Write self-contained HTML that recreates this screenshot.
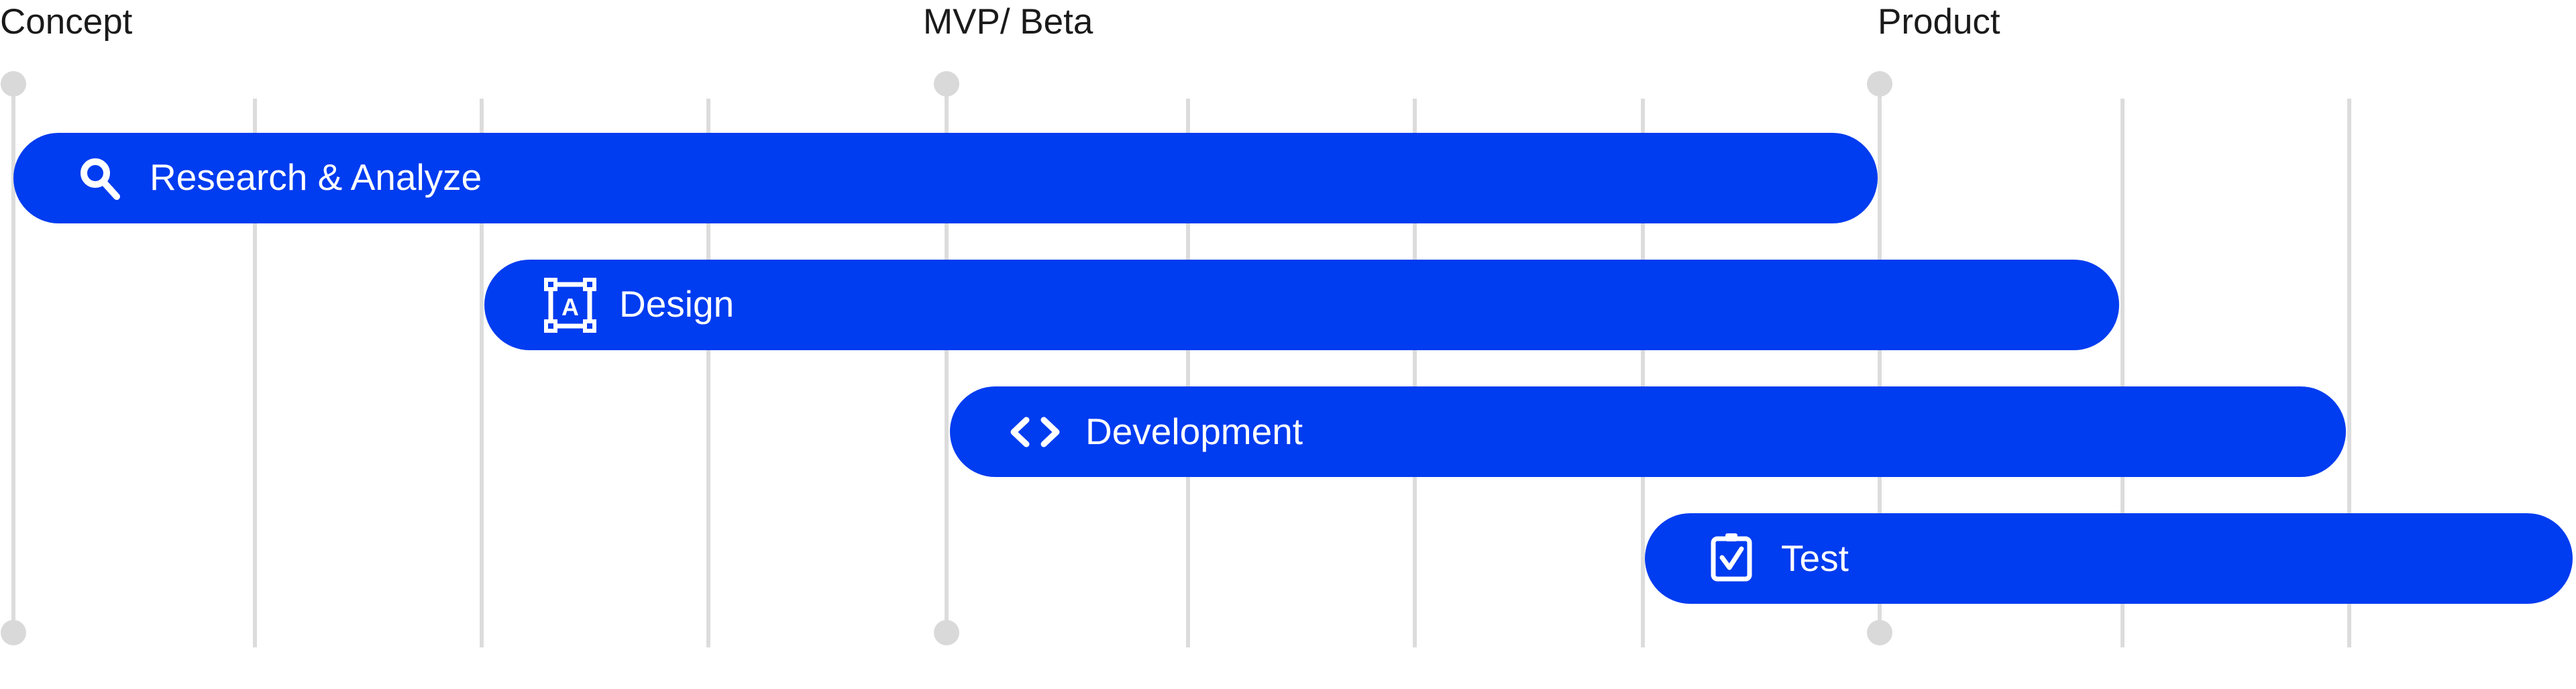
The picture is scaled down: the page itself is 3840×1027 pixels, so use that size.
<!DOCTYPE html>
<html><head><meta charset="utf-8"><style>
html,body{margin:0;padding:0;background:#fff;}
svg{display:block;}
text{font-family:"Liberation Sans",sans-serif;}
</style></head><body>
<svg width="3840" height="1027" viewBox="0 0 3840 1027" xmlns="http://www.w3.org/2000/svg">
<g fill="#1a1a1a" font-size="53">
<text x="0" y="50">Concept</text>
<text x="1376" y="50">MVP/ Beta</text>
<text x="2799" y="50">Product</text>
</g>
<g stroke="#dcdcdc" stroke-width="6">
<line x1="20" y1="125" x2="20" y2="943"/>
<line x1="1411" y1="125" x2="1411" y2="943"/>
<line x1="2802" y1="125" x2="2802" y2="943"/>
<line x1="380" y1="147" x2="380" y2="965"/>
<line x1="718" y1="147" x2="718" y2="965"/>
<line x1="1056" y1="147" x2="1056" y2="965"/>
<line x1="1771" y1="147" x2="1771" y2="965"/>
<line x1="2109" y1="147" x2="2109" y2="965"/>
<line x1="2449" y1="147" x2="2449" y2="965"/>
<line x1="3164" y1="147" x2="3164" y2="965"/>
<line x1="3502" y1="147" x2="3502" y2="965"/>
</g>
<g fill="#d9d9d9">
<circle cx="20" cy="125" r="19"/><circle cx="1411" cy="125" r="19"/><circle cx="2802" cy="125" r="19"/>
<circle cx="20" cy="943" r="19"/><circle cx="1411" cy="943" r="19"/><circle cx="2802" cy="943" r="19"/>
</g>
<g fill="#003cf0">
<rect x="20" y="198" width="2779" height="135" rx="67.5"/>
<rect x="722" y="387" width="2437" height="135" rx="67.5"/>
<rect x="1416" y="576" width="2081" height="135" rx="67.5"/>
<rect x="2452" y="765" width="1383" height="135" rx="67.5"/>
</g>
<g fill="#fff" font-size="55">
<text x="223" y="283">Research &amp; Analyze</text>
<text x="923" y="472">Design</text>
<text x="1618" y="662">Development</text>
<text x="2655" y="851">Test</text>
</g>
<g stroke="#fff" stroke-width="10" fill="none" stroke-linecap="round">
<circle cx="142" cy="258" r="17"/>
<line x1="155" y1="272" x2="174" y2="293"/>
</g>
<g stroke="#fff" stroke-width="7" fill="none">
<rect x="821" y="424" width="58" height="62"/>
</g>
<g fill="#fff">
<rect x="811" y="414" width="20" height="20"/><rect x="869" y="414" width="20" height="20"/>
<rect x="811" y="476" width="20" height="20"/><rect x="869" y="476" width="20" height="20"/>
</g>
<g fill="#003cf0"><rect x="817" y="420" width="8" height="8"/><rect x="875" y="420" width="8" height="8"/><rect x="817" y="482" width="8" height="8"/><rect x="875" y="482" width="8" height="8"/></g>
<text x="850" y="470" fill="#fff" font-size="36" font-weight="bold" text-anchor="middle">A</text>
<g stroke="#fff" stroke-width="9" fill="none" stroke-linecap="round" stroke-linejoin="round">
<polyline points="1530,626 1511,644 1530,662"/>
<polyline points="1556,626 1575,644 1556,662"/>
</g>
<g stroke="#fff" stroke-width="7" fill="none" stroke-linejoin="round">
<rect x="2554" y="803" width="54" height="60" rx="6"/>
<polyline points="2567,831 2578,846 2596,818" stroke-linecap="round"/>
</g>
<rect x="2572" y="795" width="18" height="12" rx="3" fill="#fff"/>
</svg>
</body></html>
